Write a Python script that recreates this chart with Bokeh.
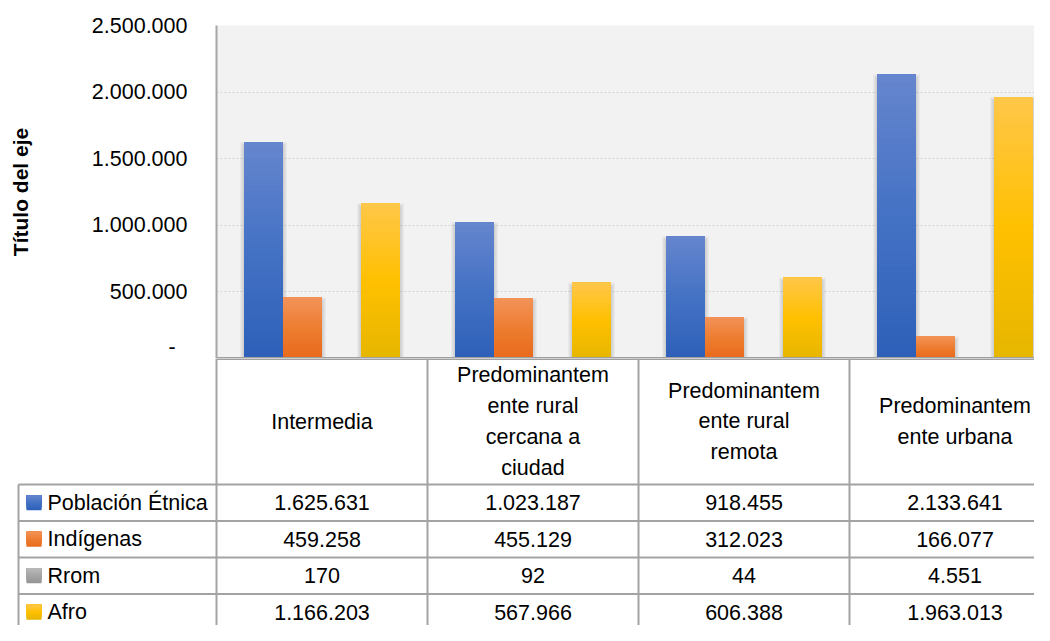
import numpy as np
from bokeh.plotting import figure
from bokeh.models import Range1d, FixedTicker
from bokeh.embed import file_html
from bokeh.resources import INLINE
from bokeh.core.properties import value

# ---------------- data ----------------
category_labels = ["Intermedia",
                   "Predominantem\nente rural\ncercana a\nciudad",
                   "Predominantem\nente rural\nremota",
                   "Predominantem\nente urbana"]
series_names = ["Población Étnica", "Indígenas", "Rrom", "Afro"]
poblacion_etnica = [1625631, 1023187, 918455, 2133641]
indigenas = [459258, 455129, 312023, 166077]
rrom = [170, 92, 44, 4551]
afro = [1166203, 567966, 606388, 1963013]
y_ticks = [0, 500000, 1000000, 1500000, 2000000, 2500000]
y_tick_labels = ["-\u00a0\u00a0", "500.000", "1.000.000", "1.500.000", "2.000.000", "2.500.000"]
axis_title = "Título del eje"

series_values = [poblacion_etnica, indigenas, rrom, afro]
# gradient stops (bottom, middle, top)
series_colors = [("#2D60B9", "#4472C4", "#6685CE"),
                 ("#E96A1C", "#ED7D31", "#F39359"),
                 ("#949494", "#A5A5A5", "#BABABA"),
                 ("#E6B600", "#FFC000", "#FFC74A")]

FONT = "Liberation Sans"
FS = "21.5px"

# ---------------- geometry ----------------
FIG_W = 1034
TOP_H = 358
TOP_BORDER = 25
BOT_H = 625 - TOP_H
LEFT_PX = 216
CAT_PX = 211.0
FRAME_W = FIG_W - LEFT_PX
X_END = FRAME_W / CAT_PX
BAR_W = 39 / CAT_PX
Y_MAX = 2500000
FRAME_H = TOP_H - TOP_BORDER


def hex2rgb(h):
    h = h.lstrip("#")
    return [int(h[i:i + 2], 16) for i in (0, 2, 4)]


def grad(stops, f):
    b, m, t = [np.array(hex2rgb(s), float) for s in stops]
    if f < 0.5:
        c = b + (m - b) * (f / 0.5)
    else:
        c = m + (t - m) * ((f - 0.5) / 0.5)
    return "#%02x%02x%02x" % tuple(int(round(v)) for v in c)


# ---------------- top chart ----------------
top = figure(width=FIG_W, height=TOP_H, output_backend="svg", toolbar_location=None,
             x_range=Range1d(0, X_END), y_range=Range1d(0, Y_MAX),
             min_border_left=LEFT_PX, min_border_right=0, min_border_top=TOP_BORDER,
             min_border_bottom=0, background_fill_color="#f2f2f2",
             border_fill_color="white", outline_line_color=None)
top.xaxis.visible = False
top.xgrid.visible = False
top.ygrid.ticker = FixedTicker(ticks=y_ticks)
top.ygrid.grid_line_color = "#d6d6d6"
top.ygrid.grid_line_dash = "2 2"
top.ygrid.grid_line_width = 1

ya = top.yaxis[0]
ya.ticker = FixedTicker(ticks=y_ticks)
ya.major_label_overrides = {t: l for t, l in zip(y_ticks, y_tick_labels)}
ya.major_label_text_font = FONT
ya.major_label_text_font_size = FS
ya.major_label_text_color = "#000000"
ya.major_tick_in = 0
ya.major_tick_out = 0
ya.minor_tick_in = 0
ya.minor_tick_out = 0
ya.major_label_standoff = 29
ya.axis_line_color = "#a6a6a6"
ya.axis_line_width = 2
ya.axis_label = axis_title
ya.axis_label_text_font = "Liberation Sans"
ya.axis_label_text_font_style = "bold"
ya.axis_label_text_font_size = "21px"
ya.axis_label_text_color = "#000000"
ya.axis_label_standoff = 57

N = 40
px_y = Y_MAX / FRAME_H
# soft shadows
for j, vals in enumerate(series_values):
    for e in (1, 2, 3, 4):
        xs = [i + 0.5 + (j - 1.5) * BAR_W for i in range(len(vals))]
        top.quad(left=[x - BAR_W / 2 - e / CAT_PX for x in xs],
                 right=[x + BAR_W / 2 + e / CAT_PX for x in xs],
                 bottom=[0] * len(vals),
                 top=[max(v - (4 - e) * px_y, 0) for v in vals],
                 fill_color="black", fill_alpha=0.035, line_color=None)
# gradient bars
for j, vals in enumerate(series_values):
    L, R, B, T, C = [], [], [], [], []
    for i, v in enumerate(vals):
        xc = i + 0.5 + (j - 1.5) * BAR_W
        for k in range(N):
            L.append(xc - BAR_W / 2)
            R.append(xc + BAR_W / 2)
            B.append(v * k / N)
            T.append(v)
            C.append(grad(series_colors[j], (k + 0.5) / N))
    top.quad(left=L, right=R, bottom=B, top=T, fill_color=C, line_color=None)

top.segment(x0=[0], y0=[0], x1=[X_END], y1=[0], line_color="#a0a0a0", line_width=3)

# ---------------- table ----------------
bot = figure(width=FIG_W, height=BOT_H, output_backend="svg", toolbar_location=None,
             x_range=Range1d(-LEFT_PX / CAT_PX, X_END), y_range=Range1d(-BOT_H, 0),
             min_border_left=0, min_border_right=0, min_border_top=0,
             min_border_bottom=0, background_fill_color="white",
             border_fill_color="white", outline_line_color=None)
bot.axis.visible = False
bot.grid.visible = False

HEAD_H = 126
ROW_H = 36.5
LEG_L = -(216 - 18) / CAT_PX
LINE_C = "#a3a3a3"
n_cat = len(category_labels)

# borders
hy = [-HEAD_H - ROW_H * r for r in range(len(series_names) + 1)]
bot.segment(x0=[LEG_L] * len(hy), y0=hy, x1=[X_END] * len(hy), y1=hy,
            line_color=LINE_C, line_width=2)
bot.segment(x0=[0], y0=[0], x1=[X_END], y1=[0], line_color="#a0a0a0", line_width=3)
vx = list(range(n_cat + 1))
bot.segment(x0=vx, y0=[0] * len(vx), x1=vx, y1=[-BOT_H] * len(vx),
            line_color=LINE_C, line_width=2)
bot.segment(x0=[LEG_L], y0=[-HEAD_H], x1=[LEG_L], y1=[-BOT_H],
            line_color=LINE_C, line_width=2)

# category header labels
bot.text(x=[i + 0.5 for i in range(n_cat)], y=[-HEAD_H / 2] * n_cat, text=category_labels,
         text_align="center", text_baseline="middle", text_font=value(FONT),
         text_font_size=FS, text_color="#000000", text_line_height=1.29)

# legend keys and names
row_c = [-HEAD_H - ROW_H * r - ROW_H / 2 for r in range(len(series_names))]
KEY = 15
for r, name in enumerate(series_names):
    kx0 = LEG_L + 8 / CAT_PX
    kx1 = kx0 + KEY / CAT_PX
    yb = row_c[r] - KEY / 2
    M = 10
    bot.quad(left=[kx0] * M, right=[kx1] * M,
             bottom=[yb + KEY * k / M for k in range(M)], top=[yb + KEY] * M,
             fill_color=[grad(series_colors[r], (k + 0.5) / M) for k in range(M)],
             line_color=None)
bot.text(x=[LEG_L + 29 / CAT_PX] * len(series_names), y=row_c, text=series_names,
         text_align="left", text_baseline="middle", text_font=value(FONT),
         text_font_size=FS, text_color="#000000")

# values
def fmt(v):
    return f"{v:,}".replace(",", ".")

tx, ty, tt = [], [], []
for r, vals in enumerate(series_values):
    for i, v in enumerate(vals):
        tx.append(i + 0.5)
        ty.append(row_c[r])
        tt.append(fmt(v))
bot.text(x=tx, y=ty, text=tt, text_align="center", text_baseline="middle",
         text_font=value(FONT), text_font_size=FS, text_color="#000000")

open("out.html", "w").write(file_html([top, bot], INLINE))
